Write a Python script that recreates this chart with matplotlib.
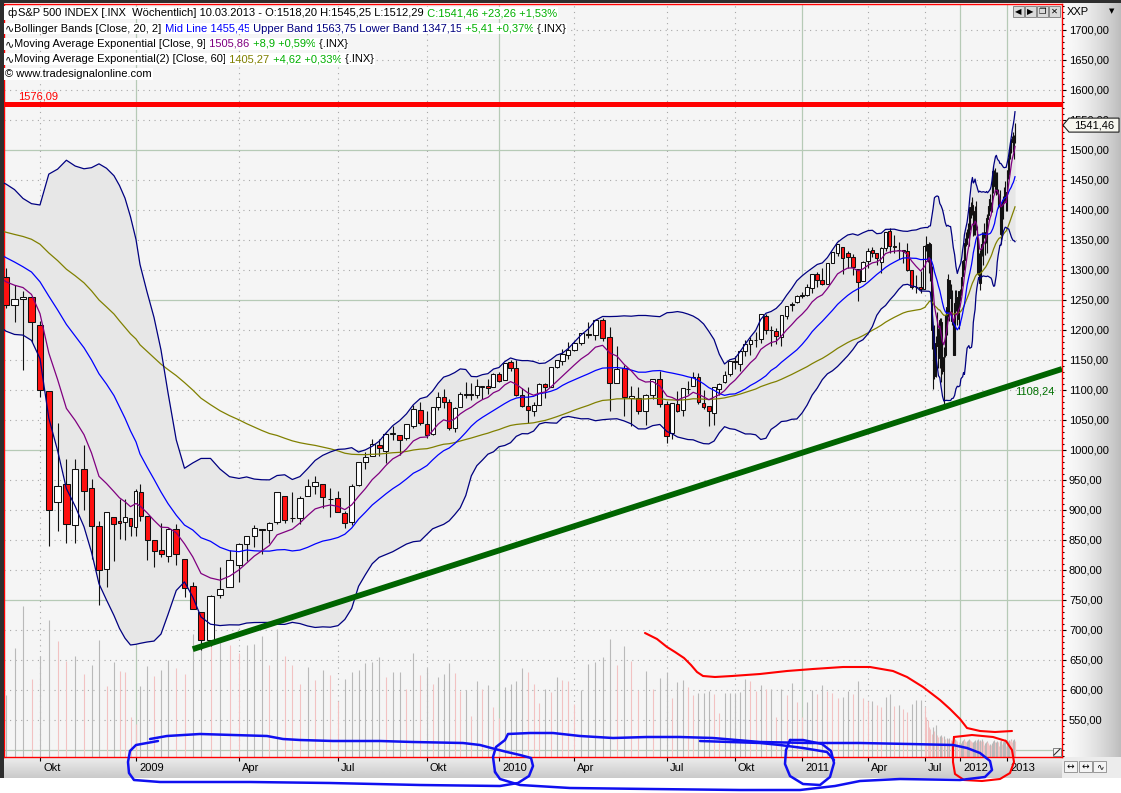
import numpy as np
import pandas as pd
import matplotlib
matplotlib.use("Agg")
import matplotlib.pyplot as plt
import matplotlib.dates as mdates
from matplotlib.ticker import MultipleLocator, FuncFormatter
from matplotlib.patches import Rectangle, Polygon
from matplotlib.lines import Line2D
from matplotlib.text import Annotation
from matplotlib.transforms import IdentityTransform

W, H = 1121, 793
plt.rcParams['font.family'] = ['Liberation Sans', 'DejaVu Sans']
plt.rcParams['font.size'] = 8

# S&P 500 (.INX), weekly bars from the week of 2008-09-01 to the week of 2013-03-04
first_week = '2008-09-01'

opens = [
    # 2008
    1287.8, 1242.3, 1250.9, 1255.4, 1209.1, 1097.6, 912.8, 943.8, 874.3, 968.7, 936.8, 873.2, 801.2, 888.6, 882.0, 880.0, 887.2, 872.4,
    # 2009
    929.2, 890.4, 849.6, 832.5, 823.1, 868.2, 818.6, 773.7, 729.6, 683.3,
    758.8, 772.0, 809.1, 842.8, 856.9, 868.3, 866.2, 879.2, 923.0, 886.1,
    887.0, 923.3, 940.4, 943.4, 918.1, 919.9, 894.3, 879.6, 942.1, 979.4,
    990.2, 1008.9, 998.2, 1026.6, 1025.2, 1019.4, 1040.5, 1067.0, 1043.0, 1026.0,
    1072.0, 1088.0, 1080.0, 1036.0, 1072.0, 1094.0, 1094.0, 1091.0, 1105.0, 1107.0,
    1105.0, 1127.0,
    # 2010
    1116.6, 1146.0, 1136.0, 1092.0, 1073.0, 1065.0, 1075.0, 1110.0, 1105.0, 1138.0,
    1148.0, 1158.0, 1167.0, 1178.0, 1194.0, 1192.0, 1217.0, 1188.0, 1111.0, 1136.0,
    1087.0, 1087.0, 1065.0, 1092.0, 1118.0, 1077.0, 1028.0, 1077.0, 1066.0, 1102.0,
    1107.0, 1122.0, 1079.0, 1073.0, 1062.0, 1102.0, 1113.0, 1126.0, 1148.0, 1144.0,
    1165.0, 1176.0, 1184.0, 1185.0, 1223.0, 1200.0, 1198.0, 1189.0, 1223.0, 1242.0,
    1246.0, 1256.0,
    # 2011
    1257.6, 1270.0, 1293.0, 1283.0, 1276.0, 1311.0, 1329.0, 1338.0, 1328.0, 1322.0,
    1301.0, 1281.0, 1315.0, 1333.0, 1329.0, 1313.0, 1337.0, 1365.0, 1340.0, 1334.0,
    1333.0, 1331.0, 1300.0, 1272.0, 1272.0, 1268.0, 1339.0, 1343.0, 1315.0, 1344.0,
    1292.0, 1198.0, 1179.0, 1123.0, 1177.0, 1173.0, 1153.0, 1214.0, 1136.0, 1131.0,
    1158.0, 1224.0, 1238.0, 1284.0, 1253.0, 1263.0, 1215.0, 1159.0, 1244.0, 1255.0,
    1219.0, 1265.0,
    # 2012
    1258.0, 1277.0, 1290.0, 1315.0, 1316.0, 1344.0, 1343.0, 1361.0, 1365.0, 1369.0,
    1371.0, 1404.0, 1397.0, 1408.0, 1398.0, 1370.0, 1378.0, 1403.0, 1368.0, 1351.0,
    1295.0, 1318.0, 1278.0, 1325.0, 1342.0, 1334.0, 1362.0, 1354.0, 1356.0, 1362.0,
    1385.0, 1391.0, 1405.0, 1418.0, 1411.0, 1406.0, 1438.0, 1465.0, 1460.0, 1440.0,
    1460.0, 1428.0, 1433.0, 1411.0, 1414.0, 1379.0, 1359.0, 1409.0, 1416.0, 1418.0,
    1413.0, 1430.0, 1402.0,
    # 2013
    1466.0, 1472.0, 1486.0, 1503.0, 1513.0, 1518.0, 1519.0, 1515.0, 1518.20,
]

highs = [
    1303.0, 1274.4, 1265.1, 1255.4, 1215.8, 1097.6, 1044.3, 985.4, 984.4, 1007.5, 952.0, 882.3, 896.3, 888.6, 918.9, 918.6, 887.4, 934.7,
    943.9, 890.4, 849.6, 877.9, 870.8, 877.0, 818.6, 780.1, 729.6, 758.3,
    804.5, 833.0, 845.6, 856.6, 875.6, 868.3, 880.4, 930.2, 923.0, 930.5,
    924.0, 951.7, 956.2, 943.4, 936.0, 931.9, 898.7, 944.0, 979.8, 996.7,
    1018.0, 1018.0, 1027.6, 1039.5, 1025.2, 1044.0, 1074.8, 1080.2, 1065.0, 1071.5,
    1096.6, 1101.4, 1085.0, 1071.0, 1097.0, 1113.7, 1112.0, 1119.1, 1107.0, 1118.0,
    1128.0, 1130.4,
    1145.4, 1150.5, 1150.0, 1103.0, 1104.7, 1080.0, 1112.0, 1112.4, 1139.0, 1150.0,
    1169.0, 1180.0, 1181.0, 1194.5, 1213.9, 1217.3, 1219.8, 1205.0, 1173.6, 1141.0,
    1106.0, 1105.7, 1094.0, 1119.0, 1131.2, 1082.0, 1078.0, 1099.0, 1103.0, 1115.0,
    1129.2, 1129.0, 1100.0, 1073.0, 1105.0, 1112.0, 1131.0, 1148.9, 1157.2, 1167.0,
    1184.0, 1189.0, 1196.0, 1227.1, 1227.0, 1207.0, 1203.0, 1225.0, 1240.5, 1246.0,
    1259.0, 1262.6,
    1276.2, 1293.5, 1296.0, 1302.7, 1311.0, 1330.0, 1344.1, 1338.0, 1332.0, 1327.0,
    1301.0, 1315.0, 1337.0, 1339.0, 1329.0, 1337.5, 1364.0, 1370.6, 1359.0, 1346.0,
    1334.0, 1345.0, 1300.0, 1292.0, 1298.0, 1341.0, 1356.0, 1343.0, 1347.0, 1344.0,
    1307.0, 1198.0, 1208.0, 1190.0, 1230.7, 1204.0, 1220.0, 1220.0, 1195.0, 1171.0,
    1224.6, 1239.0, 1292.7, 1284.0, 1277.0, 1266.0, 1215.0, 1267.0, 1267.0, 1255.0,
    1265.4, 1269.0,
    1284.0, 1296.0, 1316.0, 1333.0, 1345.5, 1354.0, 1363.0, 1368.0, 1378.0, 1371.0,
    1405.0, 1414.0, 1419.0, 1422.0, 1398.0, 1392.0, 1406.0, 1415.0, 1373.0, 1354.0,
    1328.0, 1334.0, 1329.0, 1343.5, 1363.0, 1362.5, 1378.0, 1361.0, 1380.0, 1391.0,
    1394.0, 1407.0, 1418.5, 1426.0, 1413.0, 1438.5, 1474.0, 1467.0, 1460.0, 1470.0,
    1464.0, 1464.0, 1435.0, 1421.0, 1433.0, 1388.0, 1409.5, 1419.0, 1424.0, 1438.0,
    1448.0, 1430.0, 1467.0,
    1472.5, 1486.5, 1503.5, 1514.0, 1518.0, 1524.0, 1530.0, 1525.0, 1545.25,
]

lows = [
    1236.3, 1212.5, 1133.5, 1179.8, 1088.5, 839.8, 865.8, 845.3, 845.3, 899.7, 818.7, 741.0, 772.0, 815.7, 851.4, 849.9, 857.1, 857.3,
    882.3, 817.0, 804.5, 821.7, 812.9, 808.1, 754.3, 734.5, 666.8, 672.9,
    753.4, 772.0, 779.8, 814.5, 838.6, 826.8, 845.6, 876.0, 878.9, 879.6,
    877.0, 923.3, 927.0, 903.8, 888.9, 896.0, 869.3, 875.0, 940.0, 968.0,
    990.0, 990.0, 978.5, 1016.0, 992.0, 1017.0, 1036.0, 1041.0, 1020.0, 1025.0,
    1066.0, 1070.0, 1033.4, 1029.4, 1072.0, 1087.0, 1083.7, 1086.0, 1085.0, 1093.0,
    1105.0, 1114.0,
    1116.6, 1131.0, 1090.2, 1071.6, 1044.5, 1056.0, 1075.0, 1086.0, 1105.0, 1136.0,
    1142.0, 1152.0, 1165.0, 1175.0, 1186.0, 1183.0, 1181.6, 1065.8, 1111.0, 1055.9,
    1040.8, 1060.0, 1042.2, 1085.0, 1071.0, 1010.9, 1018.4, 1063.0, 1056.9, 1094.0,
    1107.0, 1076.0, 1069.0, 1039.7, 1040.9, 1092.0, 1112.0, 1123.0, 1135.0, 1131.0,
    1157.0, 1159.0, 1171.0, 1179.0, 1194.0, 1173.0, 1176.0, 1173.0, 1218.0, 1232.0,
    1245.0, 1254.0,
    1257.0, 1262.0, 1271.0, 1275.0, 1276.0, 1311.0, 1324.0, 1294.0, 1304.0, 1291.0,
    1249.0, 1281.0, 1304.0, 1322.0, 1309.0, 1295.0, 1331.0, 1329.0, 1329.0, 1318.0,
    1311.0, 1299.0, 1268.0, 1262.0, 1262.0, 1268.0, 1331.0, 1313.0, 1295.0, 1282.0,
    1168.0, 1101.5, 1119.0, 1121.0, 1173.0, 1136.0, 1136.0, 1114.0, 1127.0, 1074.8,
    1155.0, 1191.0, 1221.0, 1215.0, 1226.0, 1209.0, 1158.6, 1158.0, 1231.0, 1209.0,
    1202.0, 1248.0,
    1258.0, 1274.0, 1290.0, 1306.0, 1300.0, 1335.0, 1340.0, 1352.0, 1354.0, 1340.0,
    1366.0, 1386.0, 1391.0, 1397.0, 1357.0, 1358.0, 1358.0, 1367.0, 1343.0, 1291.0,
    1295.0, 1277.0, 1267.0, 1306.0, 1324.0, 1309.0, 1354.0, 1325.0, 1345.0, 1329.0,
    1354.0, 1391.0, 1397.0, 1398.0, 1397.0, 1396.0, 1429.0, 1456.0, 1430.0, 1439.0,
    1425.0, 1427.0, 1403.0, 1405.0, 1373.0, 1343.0, 1359.0, 1385.0, 1398.0, 1412.0,
    1413.0, 1398.0, 1398.0,
    1451.0, 1459.0, 1485.0, 1496.0, 1495.0, 1513.0, 1497.0, 1485.0, 1512.29,
]

closes = [
    1242.31, 1251.70, 1255.08, 1213.27, 1099.23, 899.22, 940.55, 876.77, 968.75, 930.99, 873.29, 800.03, 896.24, 876.07, 879.13, 887.88, 872.80, 931.80,
    890.35, 850.12, 831.95, 825.88, 868.60, 826.84, 770.05, 735.09, 683.38, 756.55,
    768.54, 815.94, 842.50, 856.56, 869.60, 866.23, 877.52, 929.23, 882.88, 887.00,
    919.14, 940.09, 946.21, 921.23, 918.90, 896.42, 879.13, 940.38, 979.26, 987.48,
    1010.48, 1004.09, 1026.13, 1028.93, 1016.40, 1042.73, 1068.30, 1044.38, 1025.21, 1071.49,
    1087.68, 1079.60, 1036.19, 1069.30, 1093.48, 1091.38, 1091.49, 1105.98, 1106.41, 1102.47,
    1126.48, 1115.10,
    1144.98, 1136.03, 1091.76, 1073.87, 1066.19, 1075.51, 1109.17, 1104.49, 1138.70, 1149.99,
    1159.90, 1166.59, 1178.10, 1194.37, 1192.13, 1217.28, 1186.69, 1110.88, 1135.68, 1087.69,
    1089.41, 1064.88, 1091.60, 1117.51, 1076.76, 1022.58, 1077.96, 1064.88, 1102.66, 1101.60,
    1121.64, 1079.25, 1071.69, 1064.59, 1104.51, 1109.55, 1125.59, 1148.67, 1146.24, 1165.15,
    1176.19, 1183.08, 1183.26, 1225.85, 1199.21, 1199.73, 1189.40, 1224.71, 1240.40, 1243.91,
    1256.77, 1257.64,
    1271.50, 1293.24, 1283.35, 1276.34, 1310.87, 1329.15, 1343.01, 1319.88, 1321.15, 1304.28,
    1279.20, 1313.80, 1332.41, 1328.17, 1319.68, 1337.38, 1363.61, 1340.20, 1337.77, 1333.27,
    1331.10, 1300.16, 1270.98, 1271.50, 1268.45, 1339.67, 1343.80, 1316.14, 1345.02, 1292.28,
    1199.38, 1178.81, 1123.53, 1176.80, 1173.97, 1154.23, 1216.01, 1136.43, 1131.42, 1155.46,
    1224.58, 1238.25, 1285.09, 1253.23, 1263.85, 1215.65, 1158.67, 1244.28, 1255.19, 1219.66,
    1265.33, 1257.60,
    1277.81, 1289.09, 1315.38, 1316.33, 1344.90, 1342.64, 1361.23, 1365.74, 1369.63, 1370.87,
    1404.17, 1397.11, 1408.47, 1398.08, 1370.26, 1378.53, 1403.36, 1369.10, 1353.39, 1295.22,
    1317.82, 1278.04, 1325.66, 1342.84, 1335.02, 1362.16, 1354.68, 1356.78, 1362.66, 1385.97,
    1390.99, 1405.87, 1418.16, 1411.13, 1406.58, 1437.92, 1465.77, 1460.15, 1440.67, 1460.93,
    1428.59, 1433.19, 1411.94, 1414.20, 1379.85, 1359.88, 1409.15, 1416.18, 1418.07, 1413.58,
    1430.15, 1402.43, 1466.47,
    1472.05, 1485.98, 1502.96, 1513.17, 1517.93, 1519.79, 1515.60, 1518.20, 1541.46,
]

# volume bars, in pixels of the price pane
volume = [
    62, 109, 151, 78, 101, 137, 116, 96, 101, 83, 92, 117, 71, 95, 86, 85, 40, 33,
    71, 91, 81, 87, 97, 89, 83, 123, 133, 114, 120, 112, 104, 112, 113, 121, 92, 128, 101, 92,
    73, 90, 77, 87, 82, 56, 78, 85, 87, 94, 95, 100,
    80, 85, 85, 68, 104, 82, 89, 73, 80, 83, 94, 84, 66, 67, 41, 76, 68, 72, 50, 39,
    70, 73, 76, 89, 85, 73, 54, 68, 65, 80, 77, 76, 53,
    67, 93, 95, 100, 118, 92, 111, 96, 67, 86, 68, 79, 85,
    59, 75, 77, 70, 62, 64, 64, 66, 63, 44, 64, 64, 64,
    65, 78, 76, 66, 72, 68, 68, 40, 68, 62, 74, 55, 40,
    55, 67, 63, 72, 66, 64, 59, 60, 66, 63, 76, 59, 56,
    56, 52, 50, 60, 63, 51, 52, 48, 45, 53, 57, 57, 50,
    40, 37, 30, 28, 23, 30, 26, 32, 22, 20, 21, 22, 20,
    21, 18, 19, 18, 19, 17, 16, 14, 18, 17, 16, 15, 10,
    14, 16, 17, 18, 17, 16, 15, 16, 17, 18, 17, 16, 15,
    13, 15, 16, 17, 15, 17, 18, 16, 15, 17, 16, 18, 16,
    12, 14, 15, 16, 15, 14, 12, 13, 12, 14, 16, 17, 15,
    14, 15, 16, 15, 11, 16, 17, 13, 15, 15, 16, 18, 11, 14,
    16, 17, 16, 18, 17, 15, 17, 18, 16,
]

# closes of the 20 weeks before the first bar (2008-04-14 .. 2008-08-25), for the indicators
earlier_closes = [1390.33, 1397.84, 1413.90, 1388.28, 1425.35, 1375.93, 1400.38, 1360.68, 1360.03, 1317.93,
                  1278.38, 1262.90, 1239.49, 1260.68, 1257.76, 1260.31, 1296.32, 1298.20, 1292.20, 1282.83]
ema60_before = 1367.0   # EMA(60) on 2008-08-25

resistance = 1576.09
trend_dates = ['2009-02-23', '2013-12-30']
trend_prices = [668, 1135]
trend_label = 1108.24

tick_dates = ['2008-09-29', '2008-12-29', '2009-03-30', '2009-06-29', '2009-09-28', '2009-12-28', '2010-03-29',
              '2010-06-28', '2010-09-27', '2010-12-27', '2011-03-28', '2011-06-27', '2011-12-26', '2012-12-31']
tick_labels = ['Okt', '2009', 'Apr', 'Jul', 'Okt', '2010', 'Apr', 'Jul', 'Okt', '2011', 'Apr', 'Jul', '2012', '2013']

# the time axis of the original is squeezed unevenly: date -> pixel column
warp_dates = ['2008-06-30', '2008-08-25', '2008-09-01', '2008-09-29', '2008-11-03', '2008-12-01', '2008-12-29',
              '2009-01-05', '2009-02-02', '2009-03-02', '2009-03-30', '2009-06-29', '2009-09-28', '2009-12-28',
              '2010-03-29', '2010-06-28', '2010-09-27', '2010-12-27', '2011-03-28', '2011-06-27', '2011-12-26',
              '2012-12-31', '2013-03-04', '2013-12-30', '2014-12-29']
warp_px = [-66, -1.5, 6, 40, 84, 114, 136, 140, 168, 201, 239, 338, 427, 499, 574, 667, 735, 802, 868, 925,
           960, 1007, 1015, 1062, 1120]

# hand drawn marks on top of the screenshot (pixel coordinates)
red_volume_stroke = [(645, 633), (657, 639), (667, 647), (675, 652), (684, 658), (691, 665), (697, 672), (703, 676),
                     (715, 677), (732, 676), (760, 674), (787, 671), (813, 669), (843, 667), (870, 667), (893, 671),
                     (907, 677), (923, 687), (940, 700), (950, 709), (960, 719), (967, 728), (980, 731), (995, 732),
                     (1012, 731)]
red_loop = [(954, 737), (972, 735), (993, 737), (1006, 741), (1012, 750), (1014, 762), (1010, 773), (1000, 779),
            (982, 781), (964, 780), (955, 774), (953, 762), (953, 748), (954, 737)]
blue_strokes = [
    [(158, 741), (147, 743), (136, 745), (130, 751), (128, 762), (129, 773), (134, 780), (160, 782), (250, 782),
     (330, 783), (420, 785), (500, 786), (518, 783), (529, 776), (533, 766), (531, 758), (520, 755), (507, 752),
     (495, 749), (480, 745), (463, 743), (413, 742), (380, 741), (333, 741), (300, 740), (283, 739), (267, 736),
     (233, 735), (200, 734), (167, 736), (150, 739)],
    [(495, 772), (493, 757), (496, 747), (505, 740), (508, 734), (530, 733), (553, 733), (580, 736), (613, 738),
     (647, 737), (680, 737), (713, 738), (760, 742), (810, 743), (860, 743), (910, 744), (953, 745), (967, 748),
     (980, 753), (990, 761), (992, 770), (985, 777), (960, 780), (900, 779), (860, 781), (835, 786), (800, 790),
     (740, 790), (650, 789), (570, 788), (520, 785), (500, 779), (495, 772)],
    [(790, 740), (786, 750), (785, 764), (790, 776), (803, 784), (820, 785), (830, 777), (834, 763), (831, 751),
     (822, 744), (803, 740), (790, 740)],
    [(700, 741), (760, 743), (780, 745), (803, 748), (827, 752), (834, 760)],
]


def fx(x):
    return x / W


def fy(y):
    return 1 - y / H


fig = plt.figure(figsize=(W / 100, H / 100), dpi=100, facecolor='white')

ax = fig.add_axes([fx(4), fy(757), (1062 - 4) / W, (757 - 4) / H])
ax.set_facecolor('#F5F5F5')
wx = mdates.date2num(pd.to_datetime(warp_dates))


def fwd(v):
    return np.interp(v, wx, warp_px)


def inv(p):
    return np.interp(p, warp_px, wx)


ax.set_xscale('function', functions=(fwd, inv))
ax.set_xlim(inv(4), inv(1062))
ax.set_ylim(488.3, 1743.3)

weeks = pd.date_range(first_week, periods=len(closes), freq='7D')
assert str(weeks[-1].date()) == '2013-03-04'
xw = mdates.date2num(weeks)
O, Hh, L, C = (np.array(a, float) for a in (opens, highs, lows, closes))

# indicators
allc = pd.Series(earlier_closes + closes)
mid = allc.rolling(20).mean()
sd = allc.rolling(20).std(ddof=0)
upper, lower = mid + 2 * sd, mid - 2 * sd
ema9 = allc.ewm(span=9, adjust=False).mean()
ema60 = [ema60_before]
for c in closes:
    ema60.append(ema60[-1] + (c - ema60[-1]) * 2 / 61)
k = len(earlier_closes) - 1
xi = mdates.date2num(pd.date_range(end=weeks[-1], periods=len(closes) + 1, freq='7D'))

# grid
for p in range(500, 1750, 50):
    if p % 250 == 0:
        ax.axhline(p, color='#B6CAB6', lw=0.9, zorder=0.5)
    else:
        ax.axhline(p, color='#A8A8A8', lw=0.8, ls=(0, (1, 4)), zorder=0.5)
tick_x = mdates.date2num(pd.to_datetime(tick_dates))
for x, lab in zip(tick_x, tick_labels):
    if lab.isdigit():
        ax.axvline(x, color='#B6CAB6', lw=0.9, zorder=0.5)
    else:
        ax.axvline(x, color='#A8A8A8', lw=0.8, ls=(0, (1, 4)), zorder=0.5)

# bollinger area
ax.fill_between(xi, lower[k:], upper[k:], color='#E7E7E7', lw=0, zorder=1)

# volume
vol = np.array(volume, float)
rising = np.r_[True, vol[1:] >= vol[:-1]]
vcol = np.where(rising, '#B9B9B9', '#F2C2C2')
ax.vlines(xw, 0, vol / 753.0, transform=ax.get_xaxis_transform(), colors=vcol, lw=0.8, zorder=1.5)

# candles
up = C >= O
ax.vlines(xw, L, Hh, color='#111111', lw=0.8, zorder=4)
ax.bar(xw[up], (C - O)[up], bottom=O[up], width=5.0, color='white', edgecolor='#111111', lw=0.75, zorder=5)
ax.bar(xw[~up], (C - O)[~up], bottom=O[~up], width=5.0, color='#FF1010', edgecolor='#111111', lw=0.75, zorder=5)

# indicator lines
ax.plot(xi, ema60, color='#808000', lw=0.9, zorder=6)
ax.plot(xi, upper[k:], color='#000080', lw=0.9, zorder=6)
ax.plot(xi, lower[k:], color='#000080', lw=0.9, zorder=6)
ax.plot(xi, mid[k:], color='#0000FF', lw=0.9, zorder=6)
ax.plot(xi, ema9[k:], color='#800080', lw=0.9, zorder=6)

# resistance and trend line
ax.axhline(resistance, color='#FF0000', lw=3.6, zorder=7)
ax.annotate(f'{resistance:.2f}'.replace('.', ','), xy=((18 - 4) / 1058, resistance),
            xycoords=('axes fraction', 'data'), xytext=(0, 3), textcoords='offset pixels',
            color='#FF0000', ha='left', va='bottom', fontsize=8, zorder=8)
ax.plot(mdates.date2num(pd.to_datetime(trend_dates)), trend_prices, color='#006400', lw=4.2,
        solid_capstyle='butt', zorder=7)
ax.annotate(f'{trend_label:.2f}'.replace('.', ','), xy=(xw[-1], trend_label), xytext=(0, -6),
            textcoords='offset pixels', color='#007000', ha='left', va='center', fontsize=8, zorder=8)

# axes
for s in ax.spines.values():
    s.set_color('#FF0000')
    s.set_linewidth(1.0)
ax.yaxis.tick_right()
ax.set_yticks(np.arange(550, 1701, 50))
ax.yaxis.set_major_formatter(FuncFormatter(lambda v, _: f'{v:.2f}'.replace('.', ',')))
ax.yaxis.set_minor_locator(MultipleLocator(10))
ax.tick_params(axis='y', which='major', length=3, width=0.8, pad=2, labelsize=8, colors='black')
ax.tick_params(axis='y', which='minor', length=1.6, width=0.8, colors='black')
ax.set_xticks(tick_x)
ax.set_xticklabels([])
ax.tick_params(axis='x', which='major', length=3, width=0.8, colors='black')
for x, lab in zip(tick_x, tick_labels):
    ax.annotate(lab, xy=(x, 0), xycoords=('data', 'axes fraction'), xytext=(3, -11),
                textcoords='offset pixels', ha='left', va='center', fontsize=8, annotation_clip=False)

# side panels
grad = np.linspace(0, 1, 128)
rp = fig.add_axes([fx(1062), fy(757), 59 / W, 757 / H], zorder=-1)
rp.imshow((0.98 - 0.24 * grad ** 1.6)[None, :], aspect='auto', cmap='gray', vmin=0, vmax=1, extent=(0, 1, 0, 1))
rp.axis('off')
bp = fig.add_axes([fx(0), fy(778), 1062 / W, 21 / H], zorder=-1)
bp.imshow((0.93 - 0.14 * grad)[:, None], aspect='auto', cmap='gray', vmin=0, vmax=1, extent=(0, 1, 0, 1))
bp.axis('off')
fig.add_artist(Rectangle((fx(1062), fy(778)), 59 / W, 21 / H, transform=fig.transFigure,
                         fc='#ECECEC', ec='none', zorder=-0.5))
fig.add_artist(Rectangle((0, fy(778)), 3.5 / W, 778 / H, transform=fig.transFigure, fc='#2E2E2E', ec='none', zorder=40))
fig.add_artist(Rectangle((0, fy(2.5)), 1, 2.5 / H, transform=fig.transFigure, fc='#2E2E2E', ec='none', zorder=40))

# chart window buttons
for i, sym in enumerate(['◀', '▶', '❐', '✕']):
    x0 = 1013 + i * 12
    fig.add_artist(Rectangle((fx(x0), fy(17)), 11 / W, 11 / H, transform=fig.transFigure,
                             fc='#DADADA', ec='#7A7A7A', lw=0.6, zorder=41))
    fig.text(fx(x0 + 5.5), fy(11.5), sym, ha='center', va='center', fontsize=6, zorder=42,
             family=['DejaVu Sans'])
fig.text(fx(1067), fy(12), 'XXP', ha='left', va='center', fontsize=8, zorder=42)
fig.text(fx(1112), fy(11), '▼', ha='center', va='center', fontsize=5, zorder=42, family=['DejaVu Sans'])
for i, sym in enumerate(['↔', '↔', '∿']):
    x0 = 1064 + i * 14.5
    fig.add_artist(Rectangle((fx(x0), fy(772)), 13 / W, 11 / H, transform=fig.transFigure,
                             fc='#F4F4F4', ec='#8A8A8A', lw=0.6, zorder=41))
    fig.text(fx(x0 + 6.5), fy(766.5), sym, ha='center', va='center', fontsize=6.5, zorder=42,
             family=['DejaVu Sans'])
fig.add_artist(Rectangle((fx(1053), fy(756)), 8 / W, 8 / H, transform=fig.transFigure,
                         fc='#F4F4F4', ec='#707070', lw=0.6, zorder=41))
fig.add_artist(Line2D([fx(1054), fx(1060)], [fy(755), fy(749)], transform=fig.transFigure,
                      color='#303030', lw=0.8, zorder=42))

# last price tag on the price scale
y_tag = ax.transData.transform((ax.get_xlim()[0], C[-1]))[1]
fig.add_artist(Polygon([(1063, y_tag), (1069, y_tag + 7), (1119, y_tag + 7), (1119, y_tag - 7), (1069, y_tag - 7)],
                       closed=True, transform=IdentityTransform(), fc='#F7F7EF', ec='#202020', lw=0.8, zorder=43))
fig.text(1094, y_tag, f'{C[-1]:.2f}'.replace('.', ','), transform=IdentityTransform(),
         ha='center', va='center', fontsize=8, zorder=44)

# legend header
green, black = '#00B000', 'black'
box = dict(boxstyle='square,pad=0.08', fc='white', ec='none')
fig.add_artist(Rectangle((fx(4), fy(20)), 14 / W, 14 / H, transform=fig.transFigure, fc='white', ec='none', zorder=24))
fig.text(fx(8), fy(13), 'ф', ha='left', va='center', fontsize=8, zorder=25)
header = [
    (18, 13, [('S&P 500 INDEX [.INX  Wöchentlich] 10.03.2013 - O:1518,20 H:1545,25 L:1512,29', black),
              (' C:1541,46 +23,26 +1,53%', green)]),
    (5, 28.5, [('∿', black), ('Bollinger Bands [Close, 20, 2]', black), (' Mid Line 1455,45', '#0000FF'),
               (' Upper Band 1563,75 Lower Band 1347,15', '#000080'), (' +5,41 +0,37%', green), (' {.INX}', black)]),
    (5, 44, [('∿', black), ('Moving Average Exponential [Close, 9]', black), (' 1505,86', '#800080'),
             (' +8,9 +0,59%', green), (' {.INX}', black)]),
    (5, 59, [('∿', black), ('Moving Average Exponential(2) [Close, 60]', black), (' 1405,27', '#808000'),
             (' +4,62 +0,33%', green), (' {.INX}', black)]),
    (5, 74, [('© www.tradesignalonline.com', black)]),
]
for x, y, parts in header:
    prev = fig.text(fx(x), fy(y), parts[0][0], color=parts[0][1], ha='left', va='center', fontsize=8,
                    bbox=box, zorder=25)
    for s, c in parts[1:]:
        a = Annotation(s, xy=(1, 0.5), xycoords=prev, xytext=(0, 0), textcoords='offset points',
                       ha='left', va='center', color=c, fontsize=8, bbox=box, zorder=25)
        fig.add_artist(a)
        prev = a


def stroke(pts, color, lw):
    xs, ys = zip(*pts)
    fig.add_artist(Line2D([fx(v) for v in xs], [fy(v) for v in ys], transform=fig.transFigure, color=color,
                          lw=lw, solid_capstyle='round', solid_joinstyle='round', zorder=50))


stroke(red_volume_stroke, '#FF0000', 1.5)
stroke(red_loop, '#FF0000', 1.5)
for pts in blue_strokes:
    stroke(pts, '#1010F0', 1.8)

fig.savefig('out.png', dpi=100, facecolor='white')
